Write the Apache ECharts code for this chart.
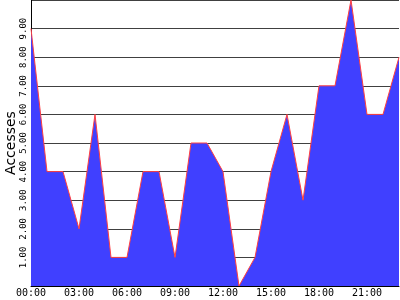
<!DOCTYPE html>
<html>
<head>
<meta charset="utf-8">
<style>html,body{margin:0;padding:0;background:#fff;}#c{width:400px;height:300px;}</style>
<script src="https://cdn.jsdelivr.net/npm/echarts@6/dist/echarts.min.js"></script>
</head>
<body>
<div id="c"></div>
<script>
var hours = ["00:00","01:00","02:00","03:00","04:00","05:00","06:00","07:00","08:00","09:00","10:00","11:00",
             "12:00","13:00","14:00","15:00","16:00","17:00","18:00","19:00","20:00","21:00","22:00","23:00"];
var accesses = [9,4,4,2,6,1,1,4,4,1,5,5,4,0,1,4,6,3,7,7,10,6,6,8];
var yMin = 0, yMax = 10, yStep = 1;

var chart = echarts.init(document.getElementById('c'), null, {renderer:'canvas'});
chart.setOption({
  animation:false,
  backgroundColor:'#ffffff',
  grid:{left:31,right:1,top:0,bottom:14,containLabel:false,outerBoundsMode:'none'},
  xAxis:{
    type:'category', data:hours, boundaryGap:false,
    axisLine:{show:true,lineStyle:{color:'#000',width:1}},
    axisTick:{show:false},
    axisLabel:{interval:2,color:'#000',fontFamily:'DejaVu Sans Mono',fontSize:10,margin:2,hideOverlap:false},
    splitLine:{show:false}
  },
  yAxis:{
    type:'value', min:yMin, max:yMax, interval:yStep,
    name:'Accesses', nameLocation:'middle', nameGap:13, nameRotate:90, nameMoveOverlap:false,
    nameTextStyle:{color:'#000',fontFamily:'DejaVu Sans',fontSize:14},
    axisLine:{show:true,lineStyle:{color:'#000',width:1}},
    axisTick:{show:false},
    axisLabel:{
      rotate:90, color:'#000',
      fontFamily:'DejaVu Sans Mono', fontSize:9, margin:3, hideOverlap:false,
      formatter:function(v){ return (v===yMin||v===yMax)?'':v.toFixed(2); }
    },
    splitLine:{show:true,lineStyle:{color:'#404040',width:1}}
  },
  series:[{
    type:'line', data:accesses, symbol:'none', smooth:false,
    lineStyle:{color:'#ff4040',width:1},
    areaStyle:{color:'#4040ff',opacity:1},
    z:3
  }]
});
</script>
</body>
</html>
